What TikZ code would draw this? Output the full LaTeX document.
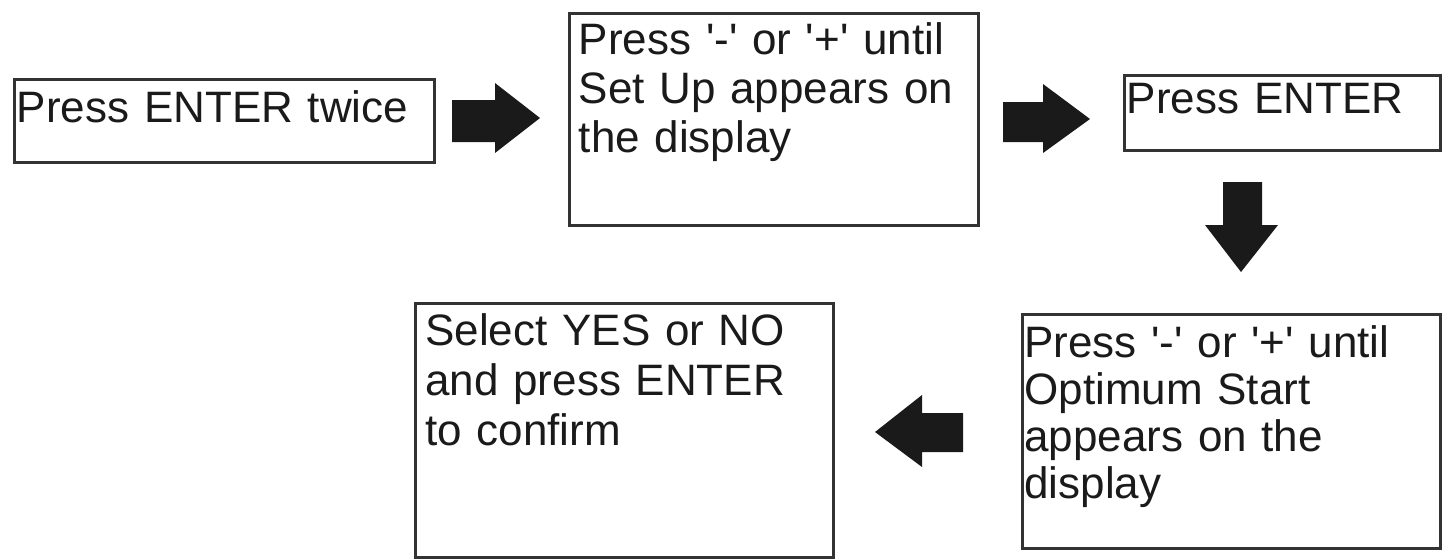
\documentclass[tikz,border=0pt]{standalone}
\usepackage{fontspec}
\setmainfont{Liberation Sans}
\definecolor{ink}{HTML}{1A1A1A}
\definecolor{edge}{HTML}{333333}
\newcommand{\sq}{\textquotesingle}
\begin{document}
\begin{tikzpicture}[x=0.5pt,y=-0.5pt,
  box/.style={draw=edge,line width=1.5pt,inner sep=0pt,rectangle},
  txt/.style={anchor=base west,inner sep=0pt,align=left,text=ink,text width=200pt},
  blockarrow/.style={fill=ink,draw=none}]
\useasboundingbox (0,0) rectangle (1445,559);
% boxes
\node[box,minimum width=210pt,minimum height=41.5pt] (b1) at (224,120.5) {};
\node[box,minimum width=204.5pt,minimum height=106pt] (b2) at (773.5,119) {};
\node[box,minimum width=158pt,minimum height=37.5pt] (b3) at (1282,112.5) {};
\node[box,minimum width=209pt,minimum height=117pt] (b4) at (1231,431) {};
\node[box,minimum width=209pt,minimum height=127pt] (b5) at (624,430) {};
% texts
\node[txt,font=\fontsize{22}{24}\selectfont] (t1) at (16.5,122) {Press ENTER twice};
\node[txt,font=\fontsize{22}{24.5}\selectfont] (t2) at (578.5,54) {Press \sq-\sq{} or \sq+\sq{} until\\Set Up appears on\\the display};
\node[txt,font=\fontsize{22}{24}\selectfont,text width=150pt] (t3) at (1126.5,113) {Press ENTER};
\node[txt,font=\fontsize{22}{23.5}\selectfont] (t4) at (1024,357) {Press \sq-\sq{} or \sq+\sq{} until\\Optimum Start\\appears on the\\display};
\node[txt,font=\fontsize{22}{25}\selectfont] (t5) at (425,345) {Select YES or NO\\and press ENTER\\to confirm};
% block arrows
\fill[blockarrow] (452,100) -- (495,100) -- (495,83) -- (540,118) -- (495,153) -- (495,142) -- (452,142) -- cycle;
\fill[blockarrow] (1003,102) -- (1043,102) -- (1043,84) -- (1090,119) -- (1043,153) -- (1043,142) -- (1003,142) -- cycle;
\fill[blockarrow] (1223,182) -- (1262,182) -- (1262,225) -- (1278,225) -- (1241,272) -- (1205,225) -- (1223,225) -- cycle;
\fill[blockarrow] (963,413) -- (922,413) -- (922,395) -- (875,432) -- (922,467) -- (922,452) -- (963,452) -- cycle;
\end{tikzpicture}
\end{document}
